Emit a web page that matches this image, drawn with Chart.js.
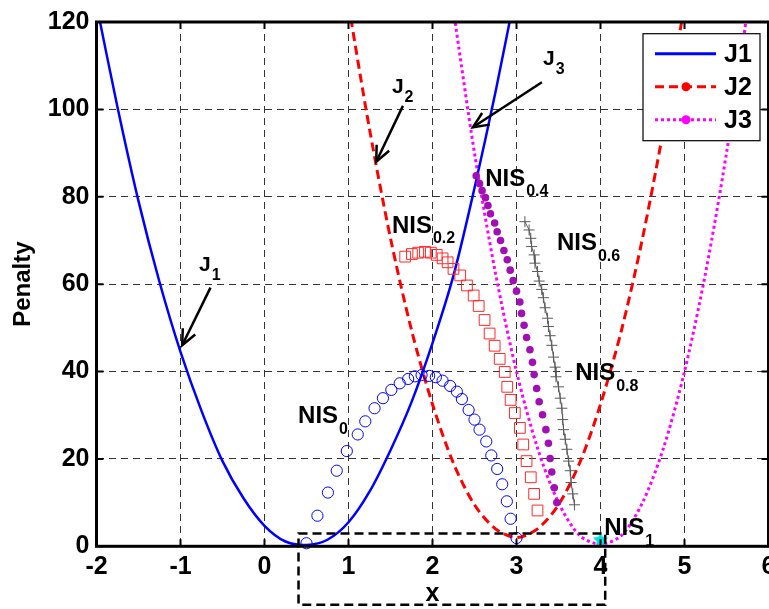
<!DOCTYPE html>
<html>
<head>
<meta charset="utf-8">
<script src="https://cdn.jsdelivr.net/npm/chart.js@4.4.1/dist/chart.umd.min.js"></script>
<style>
    html, body { margin: 0; padding: 0; background: #fff; overflow: hidden; width: 769px; height: 609px; }
    #wrap { position: absolute; left: 0; top: 0; width: 800px; height: 609px; }
</style>
</head>
<body>
<div id="wrap"><canvas id="chart" width="800" height="609"></canvas></div>
<script>
// Penalty curves J1, J2, J3
const j1X = [-2, -1.75, -1.5, -1.25, -1, -0.75, -0.5, -0.25, 0, 0.25, 0.5, 0.75, 1, 1.25, 1.5, 1.75, 2, 2.25, 2.5, 2.75, 3];
const j1Y = [124, 100.5, 79, 60.5, 44.5, 31, 19.5, 11, 4.7, 1.1, 0.3, 1.5, 5.5, 12.5, 22, 33, 46.5, 62, 82, 104, 128];

const j2X = [1, 1.25, 1.5, 1.75, 2, 2.25, 2.5, 2.75, 3, 3.25, 3.5, 3.75, 4, 4.25, 4.5, 4.75, 5];
const j2Y = [124, 95.5, 70.5, 49.5, 32.5, 19, 9.5, 4, 2, 4, 9.5, 19, 32.5, 49.5, 70.5, 95.5, 124];

const j3X = [2.25, 2.5, 2.75, 3, 3.25, 3.5, 3.75, 4, 4.25, 4.5, 4.75, 5, 5.25, 5.5, 5.75];
const j3Y = [122.5, 90, 62.5, 40, 22.5, 10, 2.5, 0.5, 2.5, 10, 22.5, 40, 62.5, 90, 122.5];

// NIS point sets
const nis0X = [0.50, 0.63, 0.755, 0.86, 0.98, 1.11, 1.20, 1.31, 1.41, 1.51, 1.61, 1.71, 1.79, 1.87, 1.96, 2.04, 2.12, 2.21, 2.29, 2.35, 2.43, 2.50, 2.56, 2.64, 2.70, 2.77, 2.83, 2.885, 2.93, 3.00];
const nis0Y = [0.7, 7.0, 12.3, 17.3, 21.8, 25.6, 28.6, 31.6, 33.9, 35.8, 37.3, 38.3, 38.9, 39.2, 39.0, 38.7, 37.9, 36.7, 35.4, 33.7, 31.2, 29.0, 26.7, 24.0, 20.8, 17.7, 14.2, 10.3, 6.3, 1.9];

const nis02X = [1.675, 1.755, 1.83, 1.91, 1.98, 2.05, 2.12, 2.18, 2.25, 2.33, 2.41, 2.49, 2.55, 2.62, 2.68, 2.74, 2.80, 2.86, 2.89, 2.93, 2.98, 3.04, 3.08, 3.12, 3.17, 3.21, 3.25];
const nis02Y = [66.3, 66.9, 67.2, 67.4, 67.2, 66.7, 65.9, 65.0, 63.5, 62.0, 59.7, 57.4, 55.0, 51.8, 48.7, 45.9, 42.9, 39.9, 36.5, 33.5, 30.5, 27.1, 23.3, 19.5, 15.8, 12.0, 8.2];

const nis04X = [2.52, 2.56, 2.59, 2.63, 2.66, 2.69, 2.74, 2.77, 2.81, 2.85, 2.89, 2.925, 2.96, 3.00, 3.04, 3.06, 3.09, 3.12, 3.16, 3.19, 3.21, 3.24, 3.27, 3.31, 3.35, 3.38, 3.40, 3.42, 3.45, 3.48];
const nis04Y = [84.8, 83.0, 81.4, 79.8, 78.0, 76.1, 74.0, 72.0, 70.0, 67.7, 65.6, 63.2, 60.8, 58.4, 55.9, 53.3, 50.6, 47.8, 45.0, 42.1, 39.3, 36.1, 33.1, 30.1, 26.7, 23.6, 20.1, 17.0, 13.4, 10.0];

const nis06X = [3.10, 3.15, 3.17, 3.18, 3.21, 3.22, 3.25, 3.27, 3.30, 3.32, 3.34, 3.37, 3.38, 3.40, 3.42, 3.44, 3.46, 3.47, 3.50, 3.52, 3.54, 3.55, 3.56, 3.58, 3.60, 3.62, 3.64, 3.65, 3.67, 3.69];
const nis06Y = [74.3, 72.4, 70.5, 68.6, 66.7, 64.8, 62.9, 60.7, 58.8, 56.9, 54.6, 52.2, 50.3, 48.2, 46.0, 43.3, 41.0, 38.8, 36.5, 33.9, 31.6, 29.0, 26.7, 24.5, 22.2, 19.5, 17.3, 14.6, 12.0, 9.5];

const nis1X = [4.0];
const nis1Y = [1.4];

// Axis ticks
const xTicks = [-2, -1, 0, 1, 2, 3, 4, 5, 6];
const yTicks = [0, 20, 40, 60, 80, 100, 120];

// Text annotations (anchored in data units)
const curveLabels = [
    { sub: "1", x: -0.78, y: 62.9, fromX: -0.643, fromY: 59.2, toX: -0.98, toY: 46.0 },
    { sub: "2", x: 1.517, y: 103.8, fromX: 1.648, fromY: 100.8, toX: 1.33, toY: 88.0 },
    { sub: "3", x: 3.315, y: 110.1, fromX: 3.302, fromY: 106.2, toX: 2.481, toY: 95.9 },
];
const nisLabels = [
    { sub: "0", x: 0.40, y: 28.2 },
    { sub: "0.2", x: 1.517, y: 71.8 },
    { sub: "0.4", x: 2.627, y: 82.5 },
    { sub: "0.6", x: 3.481, y: 67.8 },
    { sub: "0.8", x: 3.699, y: 38.0 },
    { sub: "1", x: 4.044, y: 2.56 },
];
const zoomBox = { x1: 0.405, x2: 4.056, y1: 2.94, y2: -13.4 };

const FONT = '"Liberation Sans", Arial, sans-serif';
const toPoints = (xs, ys) => xs.map((x, i) => ({ x: x, y: ys[i] }));

// filled star marker for NIS_1
function makeStar(size, color) {
    const c = document.createElement("canvas");
    c.width = size;
    c.height = size;
    const g = c.getContext("2d");
    const r = size / 2, ri = r * 0.5;
    g.beginPath();
    for (let i = 0; i < 10; i++) {
        const rad = i % 2 === 0 ? r : ri;
        const a = -Math.PI / 2 + i * Math.PI / 5;
        g.lineTo(r + rad * Math.cos(a), r + rad * Math.sin(a));
    }
    g.closePath();
    g.fillStyle = color;
    g.fill();
    return c;
}

function arrow(ctx, x1, y1, x2, y2) {
    ctx.beginPath();
    ctx.moveTo(x1, y1);
    ctx.lineTo(x2, y2);
    ctx.stroke();
    const ang = Math.atan2(y2 - y1, x2 - x1);
    const len = 17, spread = 0.42;
    ctx.beginPath();
    ctx.moveTo(x2 - len * Math.cos(ang - spread), y2 - len * Math.sin(ang - spread));
    ctx.lineTo(x2, y2);
    ctx.lineTo(x2 - len * Math.cos(ang + spread), y2 - len * Math.sin(ang + spread));
    ctx.stroke();
}

function subText(ctx, main, sub, x, y, mainSize, subSize, drop) {
    ctx.font = "bold " + mainSize + "px " + FONT;
    ctx.fillText(main, x, y);
    const w = ctx.measureText(main).width;
    ctx.font = "bold " + subSize + "px " + FONT;
    ctx.fillText(sub, x + w + 1, y + drop);
}

const decorations = {
    id: "decorations",
    afterDatasetsDraw(chart) {
        const { ctx, chartArea: a } = chart;
        const sx = chart.scales.x, sy = chart.scales.y;
        ctx.save();

        // frame and inward tick marks
        ctx.strokeStyle = "#000";
        ctx.lineWidth = 3;
        ctx.strokeRect(a.left, a.top, a.right - a.left, a.bottom - a.top);
        ctx.lineWidth = 2;
        ctx.beginPath();
        xTicks.forEach(v => {
            const x = sx.getPixelForValue(v);
            ctx.moveTo(x, a.bottom); ctx.lineTo(x, a.bottom - 7);
            ctx.moveTo(x, a.top); ctx.lineTo(x, a.top + 7);
        });
        yTicks.forEach(v => {
            const y = sy.getPixelForValue(v);
            ctx.moveTo(a.left, y); ctx.lineTo(a.left + 7, y);
            ctx.moveTo(a.right, y); ctx.lineTo(a.right - 7, y);
        });
        ctx.stroke();

        // dashed zoom box below the axis
        ctx.lineWidth = 2.5;
        ctx.setLineDash([9, 5]);
        const bx1 = sx.getPixelForValue(zoomBox.x1), bx2 = sx.getPixelForValue(zoomBox.x2);
        const by1 = sy.getPixelForValue(zoomBox.y1), by2 = sy.getPixelForValue(zoomBox.y2);
        ctx.strokeRect(bx1, by1, bx2 - bx1, by2 - by1);
        ctx.setLineDash([]);

        // curve labels with arrows
        ctx.fillStyle = "#000";
        ctx.textBaseline = "alphabetic";
        ctx.textAlign = "left";
        ctx.lineWidth = 2.5;
        curveLabels.forEach(l => {
            subText(ctx, "J", l.sub, sx.getPixelForValue(l.x), sy.getPixelForValue(l.y), 21, 16, 9);
            arrow(ctx, sx.getPixelForValue(l.fromX), sy.getPixelForValue(l.fromY),
                sx.getPixelForValue(l.toX), sy.getPixelForValue(l.toY));
        });

        nisLabels.forEach(l => {
            subText(ctx, "NIS", l.sub, sx.getPixelForValue(l.x), sy.getPixelForValue(l.y), 24, 16, 10.5);
        });

        // legend
        const lw = 117, lh = 107;
        const lx = a.right - 8.5 - lw, ly = a.top + 11.7;
        ctx.fillStyle = "#fff";
        ctx.fillRect(lx, ly, lw, lh);
        ctx.strokeStyle = "#000";
        ctx.lineWidth = 1.2;
        ctx.strokeRect(lx, ly, lw, lh);
        const rows = [
            { text: "J1", color: "#0000ff", dash: [], dot: false },
            { text: "J2", color: "#ff0000", dash: [9, 5], dot: true },
            { text: "J3", color: "#ff00ff", dash: [3, 3], dot: true },
        ];
        rows.forEach((r, i) => {
            const y = ly + 20 + i * 33;
            ctx.strokeStyle = r.color;
            ctx.lineWidth = 3;
            ctx.setLineDash(r.dash);
            ctx.beginPath();
            ctx.moveTo(lx + 12, y);
            ctx.lineTo(lx + 73, y);
            ctx.stroke();
            ctx.setLineDash([]);
            if (r.dot) {
                ctx.fillStyle = r.color;
                ctx.beginPath();
                ctx.arc(lx + 43, y, 4.5, 0, Math.PI * 2);
                ctx.fill();
            }
            ctx.fillStyle = "#000";
            ctx.font = "bold 25px " + FONT;
            ctx.textBaseline = "middle";
            ctx.fillText(r.text, lx + 81, y + 1);
        });
        ctx.restore();
    },
};

const lineBase = { showLine: true, pointRadius: 0, fill: false, tension: 0.3, order: 2 };
const markBase = { showLine: false, clip: false, order: 1 };

new Chart(document.getElementById("chart"), {
    type: "scatter",
    data: {
        datasets: [
            Object.assign({}, lineBase, { label: "J1", data: toPoints(j1X, j1Y), borderColor: "#0000ff", borderWidth: 2.5 }),
            Object.assign({}, lineBase, { label: "J2", data: toPoints(j2X, j2Y), borderColor: "#ff0000", borderWidth: 3, borderDash: [9, 5] }),
            Object.assign({}, lineBase, { label: "J3", data: toPoints(j3X, j3Y), borderColor: "#ff00ff", borderWidth: 3, borderDash: [3, 3] }),
            Object.assign({}, markBase, {
                label: "NIS0", data: toPoints(nis0X, nis0Y), pointStyle: "circle", pointRadius: 5.6,
                borderColor: "#0000ff", backgroundColor: "rgba(0,0,0,0)", borderWidth: 1,
            }),
            Object.assign({}, markBase, {
                label: "NIS0.2", data: toPoints(nis02X, nis02Y), pointStyle: "rect", pointRadius: 7.6,
                borderColor: "#ff2a2a", backgroundColor: "rgba(0,0,0,0)", borderWidth: 1,
            }),
            Object.assign({}, markBase, {
                label: "NIS0.4", data: toPoints(nis04X, nis04Y), pointStyle: "circle", pointRadius: 3.8,
                borderColor: "#a010b4", backgroundColor: "#a010b4", borderWidth: 0,
            }),
            Object.assign({}, markBase, {
                label: "NIS0.6", data: toPoints(nis06X, nis06Y), showLine: true, pointStyle: "cross", pointRadius: 5.5,
                borderColor: "#5a5a5a", backgroundColor: "#5a5a5a", borderWidth: 1, pointBorderWidth: 1,
            }),
            Object.assign({}, markBase, {
                label: "NIS1", data: toPoints(nis1X, nis1Y), pointStyle: makeStar(16, "#00e0e0"), pointRadius: 8,
            }),
        ],
    },
    options: {
        responsive: false,
        animation: false,
        layout: { padding: { left: 0, right: 31.5, top: 16.3, bottom: 0 } },
        plugins: { legend: { display: false }, tooltip: { enabled: false } },
        scales: {
            x: {
                type: "linear",
                min: -2,
                max: 6,
                afterBuildTicks: s => { s.ticks = xTicks.map(v => ({ value: v })); },
                afterFit: s => { s.height = 62.7; },
                ticks: { color: "#000", padding: 6, font: { family: FONT, size: 25, weight: "bold" } },
                grid: { color: "rgba(0,0,0,0.8)", lineWidth: 1, drawTicks: false },
                border: { display: false, dash: [7, 5] },
                title: { display: true, text: "x", color: "#000", padding: { top: 0, bottom: 0 }, font: { family: FONT, size: 25, weight: "bold" } },
            },
            y: {
                type: "linear",
                min: 0,
                max: 120,
                afterBuildTicks: s => { s.ticks = yTicks.map(v => ({ value: v })); },
                afterFit: s => { s.width = 96.5; },
                ticks: { color: "#000", padding: 7, font: { family: FONT, size: 25, weight: "bold" } },
                grid: { color: "rgba(0,0,0,0.8)", lineWidth: 1, drawTicks: false },
                border: { display: false, dash: [7, 5] },
                title: { display: true, text: "Penalty", color: "#000", padding: { top: 9, bottom: 0 }, font: { family: FONT, size: 24, weight: "bold" } },
            },
        },
    },
    plugins: [decorations],
});
</script>
</body>
</html>
